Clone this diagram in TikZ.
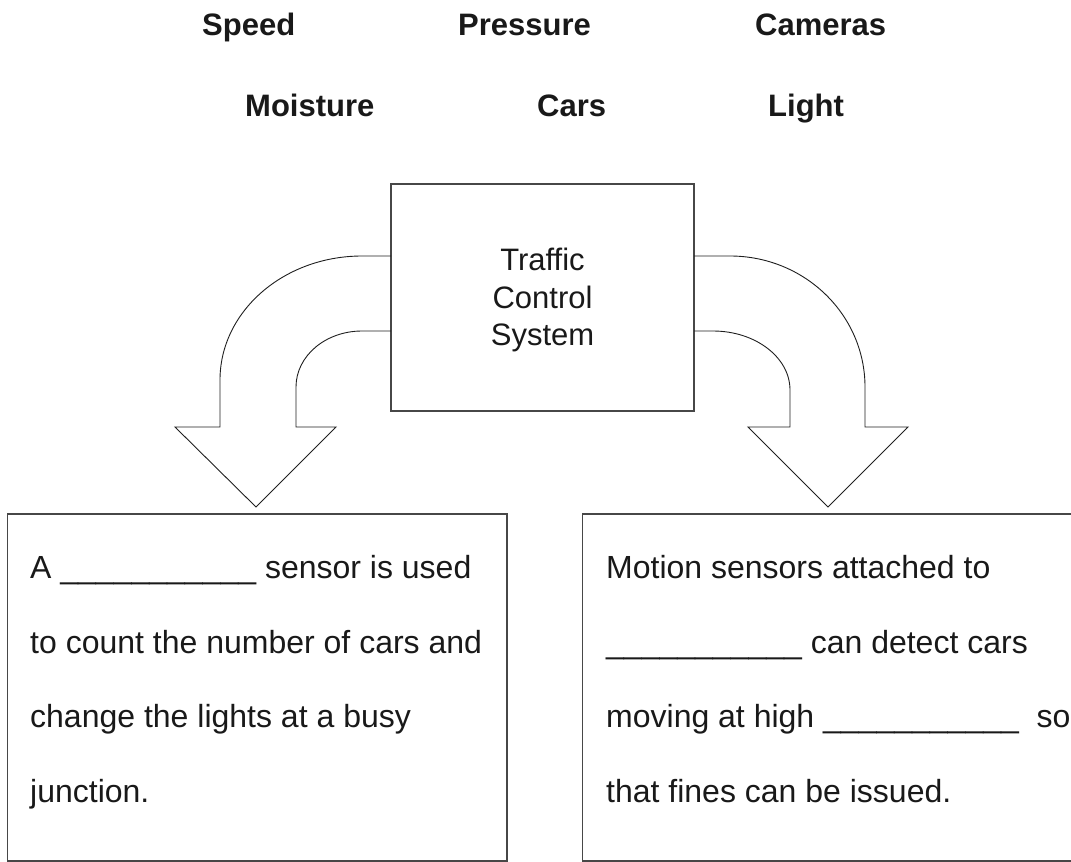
\documentclass[tikz,border=0pt]{standalone}
\usepackage{fontspec}
\setmainfont{Liberation Sans}
\begin{document}
\begin{tikzpicture}[x=1pt,y=-1pt,
  word/.style={anchor=base west, inner sep=0pt, font=\fontsize{31}{37}\selectfont\bfseries, text=black!90},
  line/.style={anchor=base west, inner sep=0pt, font=\fontsize{32}{38}\selectfont, text=black!90},
  centreline/.style={anchor=base, inner sep=0pt, font=\fontsize{31}{37}\selectfont, text=black!90},
  box/.style={draw=black!72, line width=1.4pt, inner sep=0pt, fill=none},
  bigarrow/.style={draw=black!88, line width=0.9pt, line join=miter}]
\useasboundingbox (0,0) rectangle (1071,862);
% word bank
\node[word] (speed) at (202,35) {Speed};
\node[word] (pressure) at (458,35) {Pressure};
\node[word] (cameras) at (755,35) {Cameras};
\node[word] (moisture) at (245,116) {Moisture};
\node[word] (cars) at (537,116) {Cars};
\node[word] (light) at (768,116) {Light};
% central box
\node[box, minimum width=303pt, minimum height=227pt] (tcs) at (542.5,297.5) {};
\node[centreline] (tcs1) at (542.5,270) {Traffic};
\node[centreline] (tcs2) at (542.5,308) {Control};
\node[centreline] (tcs3) at (542.5,345) {System};
% left curved arrow
\draw[bigarrow] (391,256) -- (362,256)
  .. controls (283.6,256) and (220,311.5) .. (220,380)
  -- (220,427) -- (175,427) -- (256,507) -- (336,427) -- (296,427) -- (296,387)
  .. controls (296,356) and (325.5,331) .. (362,331) -- (391,331);
% right curved arrow
\draw[bigarrow] (694,256) -- (730,256)
  .. controls (804.6,256) and (865,314.6) .. (865,387)
  -- (865,427) -- (908,427) -- (828,507) -- (748,427) -- (790,427) -- (790,390)
  .. controls (790,357.4) and (755.5,331) .. (713,331) -- (694,331);
% bottom boxes
\node[box, minimum width=499.3pt, minimum height=347pt] (lbox) at (257.35,687.5) {};
\node[box, minimum width=490.5pt, minimum height=347pt] (rbox) at (827.75,687.5) {};
\node[line] (l1) at (30,578) {A \_\_\_\_\_\_\_\_\_\_\_ sensor is used};
\node[line] (l2) at (30,653) {to count the number of cars and};
\node[line] (l3) at (30,727) {change the lights at a busy};
\node[line] (l4) at (30,802) {junction.};
\node[line] (r1) at (606,578) {Motion sensors attached to};
\node[line] (r2) at (606,653) {\_\_\_\_\_\_\_\_\_\_\_ can detect cars};
\node[line] (r3) at (606,727) {moving at high \_\_\_\_\_\_\_\_\_\_\_\ \ so};
\node[line] (r4) at (606,802) {that fines can be issued.};
\end{tikzpicture}
\end{document}
